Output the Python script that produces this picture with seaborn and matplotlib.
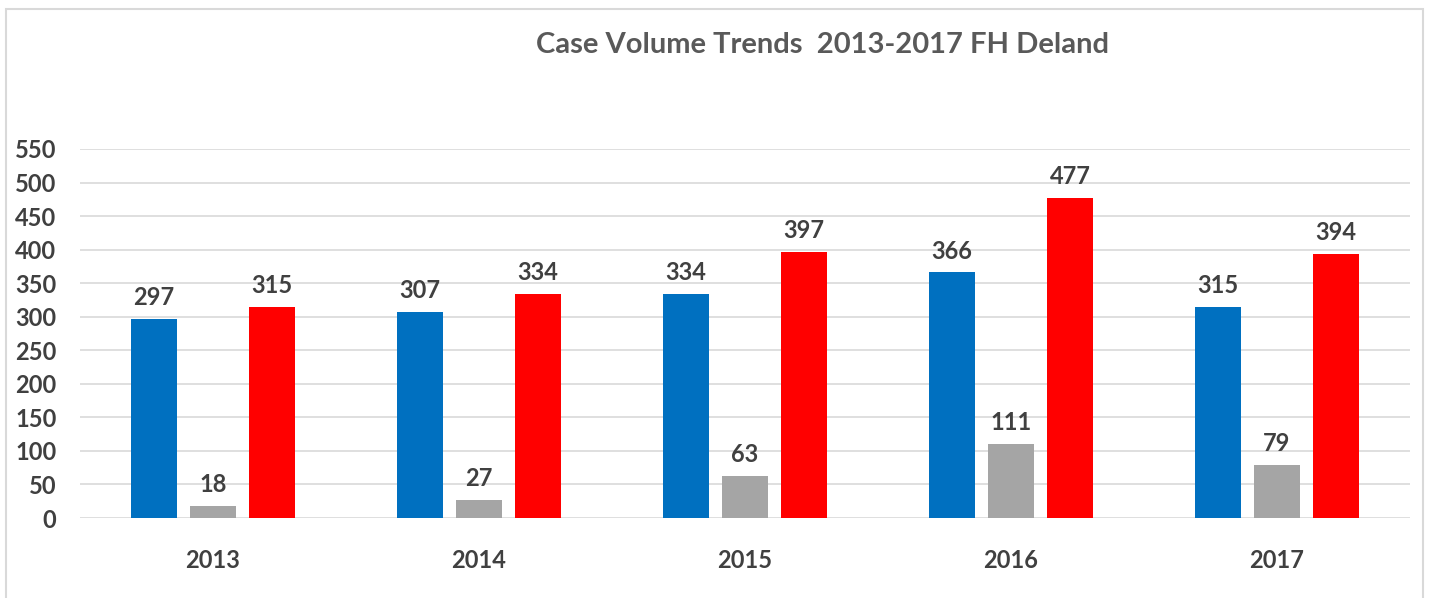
import pandas as pd
import matplotlib.pyplot as plt
import seaborn as sns
from matplotlib.patches import Rectangle

# chart data
years = ["2013", "2014", "2015", "2016", "2017"]
series_a = [297, 307, 334, 366, 315]
series_b = [18, 27, 63, 111, 79]
series_c = [315, 334, 397, 477, 394]
series_names = ["A", "B", "C"]
colors = ["#0070C0", "#A5A5A5", "#FF0000"]
y_ticks = list(range(0, 551, 50))

df = pd.DataFrame({
    "year": years * 3,
    "series": [n for n in series_names for _ in years],
    "value": series_a + series_b + series_c,
})

sns.set_theme(style="white")
plt.rcParams["font.family"] = ["Lato", "DejaVu Sans"]

W, H = 1431, 598
fig = plt.figure(figsize=(W / 100, H / 100), dpi=100)
ax = fig.add_axes([80 / W, 1 - 518 / H, 1330 / W, 369 / H])

sns.barplot(data=df, x="year", y="value", hue="series", order=years,
            hue_order=series_names, palette=colors, width=0.665, gap=0.22,
            saturation=1, linewidth=0, legend=False, ax=ax)

for cont in ax.containers:
    ax.bar_label(cont, padding=7, fontsize=17, fontweight="bold",
                 color="#404040", clip_on=False)

ax.set_ylim(0, 550)
ax.set_xlim(-0.5, 4.5)
ax.set_yticks(y_ticks)
ax.yaxis.grid(True, color="#D9D9D9", linewidth=1.2)
ax.set_axisbelow(True)
sns.despine(ax=ax, left=True, bottom=True)
ax.tick_params(axis="both", length=0, labelsize=17, colors="#404040")
ax.tick_params(axis="y", pad=17)
ax.tick_params(axis="x", pad=22)
for lbl in ax.get_xticklabels() + ax.get_yticklabels():
    lbl.set_fontweight("bold")
ax.set_xlabel("")
ax.set_ylabel("")

fig.text(823 / W, 1 - 45 / H, "Case Volume Trends  2013-2017 FH Deland",
         ha="center", va="center", fontsize=21, fontweight="bold",
         color="#595959")

# outer chart border
fig.patches.append(Rectangle((6 / W, -0.01), 1417 / W, 1 - 9 / H + 0.01,
                             transform=fig.transFigure, fill=False,
                             edgecolor="#D9D9D9", linewidth=1.5))

fig.savefig("out.png", dpi=100)
